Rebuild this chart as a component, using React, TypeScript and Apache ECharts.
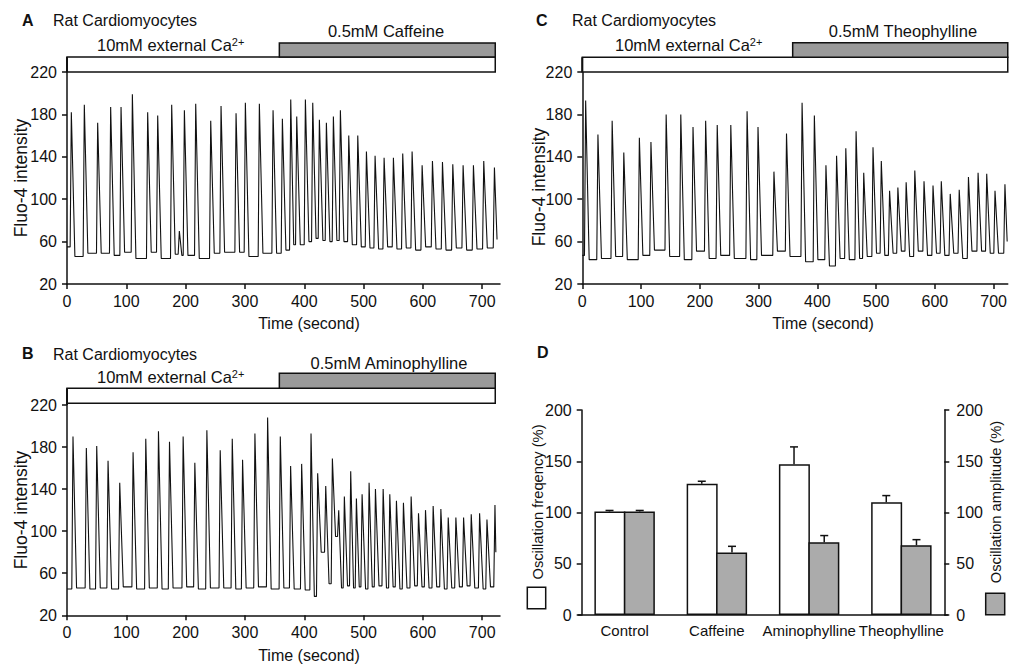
import React, { useEffect, useRef } from "react";
import * as echarts from "echarts";

// ---------- data ----------
const timeTicks = [0, 100, 200, 300, 400, 500, 600, 700];
const fluoTicks = [20, 60, 100, 140, 180, 220];
const pctTicks = [0, 50, 100, 150, 200];

// Panel A (caffeine): spike peak times (s), peak values, trough after each spike
const aTimes = [7.3, 29.2, 51.7, 73.6, 91.1, 110.2, 136.0, 152.9, 176.5, 189.4, 197.9, 217.0, 242.3, 259.7, 285.0, 300.7, 324.3, 347.4, 363.1, 377.2, 387.3, 401.9, 414.3, 425.5, 437.3, 449.1, 460.9, 475.0, 490.2, 504.8, 519.4, 534.6, 550.3, 566.0, 581.8, 598.7, 616.1, 633.0, 650.4, 667.8, 685.2, 702.6, 720.6];
const aPeaks = [182, 189, 172, 187, 187, 199, 182, 179, 189, 70, 184, 190, 174, 188, 181, 191, 190, 184, 176, 194, 178, 194, 191, 175, 172, 178, 184, 160, 160, 145, 141, 139, 139, 143, 145, 132, 136, 135, 133, 132, 132, 136, 130];
const aFloors = [46, 49, 49, 47, 50, 44, 50, 44, 48, 47, 47, 44, 49, 50, 50, 46, 49, 49, 52, 57, 57, 60, 63, 61, 60, 61, 60, 57, 55, 54, 53, 55, 53, 54, 52, 55, 53, 52, 54, 52, 53, 54, 62];
const aStart = 55;
const aEnd = 725;

// Panel B (aminophylline)
const bTimes = [10.1, 32.6, 50.1, 69.2, 88.9, 111.4, 132.8, 154.2, 172.8, 195.8, 215.5, 235.8, 258.3, 278.6, 296.0, 316.8, 338.2, 359.6, 377.0, 395.6, 411.4, 422.6, 436.2, 447.4, 458.1, 467.6, 478.3, 487.9, 497.5, 509.3, 520.0, 533.0, 544.2, 555.4, 567.2, 580.2, 592.6, 604.4, 617.3, 630.3, 642.7, 655.6, 668.6, 681.5, 695.6, 708.0, 721.5];
const bPeaks = [190, 179, 181, 167, 146, 175, 188, 195, 185, 190, 165, 196, 177, 188, 168, 193, 208, 190, 162, 164, 193, 155, 143, 169, 120, 133, 157, 131, 135, 146, 140, 140, 135, 129, 127, 133, 117, 120, 124, 121, 113, 113, 113, 116, 117, 111, 125];
const bFloors = [46, 45, 46, 45, 47, 45, 46, 45, 46, 47, 45, 46, 46, 45, 46, 47, 45, 46, 45, 44, 38, 80, 50, 95, 46, 48, 46, 47, 45, 47, 48, 46, 47, 45, 46, 48, 47, 46, 47, 45, 46, 47, 48, 46, 45, 47, 80];
const bStart = 45;
const bEnd = 723;

// Panel C (theophylline)
const cTimes = [5.7, 26.6, 50.8, 70.6, 97.1, 116.8, 142.7, 167.6, 188.4, 209.9, 229.6, 252.7, 280.4, 299.0, 326.1, 347.5, 374.0, 394.9, 414.6, 432.7, 448.4, 465.9, 478.9, 494.7, 508.8, 522.9, 537.0, 551.1, 565.8, 581.5, 596.8, 610.9, 626.1, 641.4, 657.1, 673.5, 688.2, 702.3, 719.2];
const cPeaks = [193, 161, 174, 144, 158, 154, 180, 180, 168, 174, 170, 170, 183, 168, 126, 162, 191, 179, 132, 141, 148, 164, 125, 149, 136, 108, 111, 116, 127, 117, 113, 117, 105, 109, 121, 125, 124, 108, 114];
const cFloors = [43, 44, 46, 43, 47, 52, 46, 43, 51, 44, 47, 44, 43, 47, 51, 46, 41, 43, 37, 44, 43, 44, 46, 49, 47, 49, 51, 46, 51, 47, 49, 47, 49, 44, 51, 51, 49, 49, 60];
const cStart = 47;
const cEnd = 723;

// treatment periods (s)
const drugStart = 358;
const drugEndAB = 722;
const drugEndC = 724;

// Panel D
const categories = ["Control", "Caffeine", "Aminophylline", "Theophylline"];
const freqMean = [101, 128, 147, 110];
const freqErr = [1, 2.5, 17, 6.5];
const ampMean = [101, 61, 71, 68];
const ampErr = [1, 6, 6.5, 5.5];

// ---------- drawing ----------
const FONT = "'Liberation Sans', Arial, Helvetica, sans-serif";
const INK = "#111";
const RISE = 2;
const DECAY = 6;

function buildTrace(start: number, times: number[], peaks: number[], floors: number[], end: number) {
  const pts: number[][] = [[0, start]];
  let prev = start;
  for (let i = 0; i < times.length; i++) {
    const t = times[i];
    const last = i === times.length - 1;
    const next = last ? end : times[i + 1];
    pts.push([t - RISE, prev]);
    pts.push([t, peaks[i]]);
    const dEnd = last ? end : t + Math.min(DECAY, (next - t) * 0.5);
    pts.push([dEnd, floors[i]]);
    prev = floors[i];
  }
  return pts;
}

const axisLineStyle = { color: INK, width: 1.5 };

function timeAxis(gridIndex: number, max: number) {
  return {
    type: "value",
    gridIndex,
    min: 0,
    max,
    axisLine: { show: true, onZero: false, lineStyle: axisLineStyle },
    axisTick: { show: true, length: 5, customValues: timeTicks, lineStyle: axisLineStyle },
    axisLabel: { customValues: timeTicks, color: INK, fontSize: 16, fontFamily: FONT, margin: 9 },
    splitLine: { show: false },
  };
}

function fluoAxis(gridIndex: number) {
  return {
    type: "value",
    gridIndex,
    min: 20,
    max: 220,
    axisLine: { show: true, onZero: false, lineStyle: axisLineStyle },
    axisTick: { show: true, length: 5, customValues: fluoTicks, lineStyle: axisLineStyle },
    axisLabel: { customValues: fluoTicks, color: INK, fontSize: 16, fontFamily: FONT, margin: 10 },
    splitLine: { show: false },
  };
}

function pctAxis(position: string, margin: number) {
  return {
    type: "value",
    gridIndex: 3,
    position,
    offset: -3.2,
    min: 0,
    max: 200,
    axisLine: { show: true, onZero: false, lineStyle: axisLineStyle },
    axisTick: { show: true, length: 5, customValues: pctTicks, lineStyle: axisLineStyle },
    axisLabel: { customValues: pctTicks, color: INK, fontSize: 16, fontFamily: FONT, margin },
    splitLine: { show: false },
  };
}

function traceSeries(idx: number, data: number[][]) {
  return {
    type: "line",
    xAxisIndex: idx,
    yAxisIndex: idx,
    data,
    symbol: "none",
    showSymbol: false,
    silent: true,
    clip: true,
    lineStyle: { color: INK, width: 1.1 },
  };
}

function errRender(offset: number) {
  return (params: any, api: any) => {
    const i = api.value(0);
    const m = api.value(1);
    const e = api.value(2);
    const p0 = api.coord([i, m]);
    const p1 = api.coord([i, m + e]);
    const x = p0[0] + offset;
    const st = { stroke: INK, lineWidth: 1.5 };
    return {
      type: "group",
      children: [
        { type: "line", shape: { x1: x, y1: p0[1], x2: x, y2: p1[1] }, style: st },
        { type: "line", shape: { x1: x - 4, y1: p1[1], x2: x + 4, y2: p1[1] }, style: st },
      ],
    };
  };
}

function txt(x: number, y: number, text: string, size: number, extra: any = {}, rotation = 0) {
  const align = extra.align || "left";
  return {
    type: "text",
    x,
    y,
    rotation,
    z: 10,
    style: {
      text,
      fontSize: size,
      fontFamily: FONT,
      fontWeight: extra.bold ? "bold" : "normal",
      fill: INK,
      align,
      textAlign: align,
      verticalAlign: "middle",
      textVerticalAlign: "middle",
      ...(extra.rich ? { rich: extra.rich } : {}),
    },
  };
}

const supRich = {
  s: { fontSize: 11, fontFamily: FONT, fill: INK, verticalAlign: "top", lineHeight: 11 },
};

export default function App() {
  const ref = useRef<HTMLDivElement>(null);

  useEffect(() => {
    if (!ref.current) return;
    const chart = echarts.init(ref.current, null, { renderer: "svg" });

    const option: any = {
      animation: false,
      backgroundColor: "#fff",
      grid: [
        { left: 67, top: 72, width: 433, height: 212 },
        { left: 67, top: 405, width: 433, height: 210.3 },
        { left: 582.3, top: 72, width: 427.7, height: 212 },
        { left: 578.5, top: 410, width: 369, height: 205 },
      ],
      xAxis: [
        timeAxis(0, 730),
        timeAxis(1, 730),
        timeAxis(2, 724),
        {
          type: "category",
          gridIndex: 3,
          data: categories,
          axisLine: { show: true, onZero: false, lineStyle: axisLineStyle },
          axisTick: { show: false },
          axisLabel: { interval: 0, color: INK, fontSize: 15, fontFamily: FONT, margin: 8 },
          splitLine: { show: false },
        },
      ],
      yAxis: [fluoAxis(0), fluoAxis(1), fluoAxis(2), pctAxis("left", 10), pctAxis("right", 12)],
      series: [
        traceSeries(0, buildTrace(aStart, aTimes, aPeaks, aFloors, aEnd)),
        traceSeries(1, buildTrace(bStart, bTimes, bPeaks, bFloors, bEnd)),
        traceSeries(2, buildTrace(cStart, cTimes, cPeaks, cFloors, cEnd)),
        {
          type: "bar",
          xAxisIndex: 3,
          yAxisIndex: 3,
          data: freqMean,
          barWidth: 31,
          barGap: "-5%",
          silent: true,
          itemStyle: { color: "#fff", borderColor: INK, borderWidth: 1.5 },
        },
        {
          type: "bar",
          xAxisIndex: 3,
          yAxisIndex: 4,
          data: ampMean,
          barWidth: 31,
          barGap: "-5%",
          silent: true,
          itemStyle: { color: "#ababab", borderColor: INK, borderWidth: 1.5 },
        },
        {
          type: "custom",
          xAxisIndex: 3,
          yAxisIndex: 3,
          silent: true,
          z: 5,
          data: categories.map((_, i) => [i, freqMean[i], freqErr[i]]),
          encode: { x: 0, y: 1 },
          renderItem: errRender(-15.1),
        },
        {
          type: "custom",
          xAxisIndex: 3,
          yAxisIndex: 4,
          silent: true,
          z: 5,
          data: categories.map((_, i) => [i, ampMean[i], ampErr[i]]),
          encode: { x: 0, y: 1 },
          renderItem: errRender(15.1),
        },
      ],
    };
    chart.setOption(option);

    const px = (axis: number, v: number) => chart.convertToPixel({ xAxisIndex: axis }, v) as number;
    const xA0 = px(0, 0), xAs = px(0, drugStart), xAe = px(0, drugEndAB);
    const xB0 = px(1, 0), xBs = px(1, drugStart), xBe = px(1, drugEndAB);
    const xC0 = px(2, 0), xCs = px(2, drugStart), xCe = px(2, drugEndC);

    const barStroke = { stroke: INK, lineWidth: 1.5 };
    const rect = (x: number, y: number, w: number, h: number, fill: string) => ({
      type: "rect",
      z: 5,
      shape: { x, y, width: w, height: h },
      style: { fill, ...barStroke },
    });
    const vline = (x: number, y1: number, y2: number) => ({
      type: "line",
      z: 6,
      shape: { x1: x, y1, x2: x, y2 },
      style: { stroke: INK, lineWidth: 2 },
    });

    const elements: any[] = [
      // Panel A
      txt(22, 20, "A", 16, { bold: true }),
      txt(53, 20, "Rat Cardiomyocytes", 16),
      txt(97, 45, "10mM external Ca{s|2+}", 16.5, { rich: supRich }),
      txt(386, 31, "0.5mM Caffeine", 16.5, { align: "center" }),
      rect(xA0, 57, xAe - xA0, 15, "#fff"),
      rect(xAs, 43, xAe - xAs, 14, "#9a9a9a"),
      vline(xA0, 57, 72),
      txt(21, 178, "Fluo-4 intensity", 17.5, { align: "center" }, Math.PI / 2),
      txt(309, 323, "Time (second)", 16, { align: "center" }),
      // Panel B
      txt(22, 353, "B", 16, { bold: true }),
      txt(53, 354, "Rat Cardiomyocytes", 16),
      txt(97, 377, "10mM external Ca{s|2+}", 16.5, { rich: supRich }),
      txt(389, 363, "0.5mM Aminophylline", 16.5, { align: "center" }),
      rect(xB0, 388.3, xBe - xB0, 15, "#fff"),
      rect(xBs, 373.3, xBe - xBs, 15, "#9a9a9a"),
      vline(xB0, 388.3, 405),
      txt(21, 510, "Fluo-4 intensity", 17.5, { align: "center" }, Math.PI / 2),
      txt(309, 655, "Time (second)", 16, { align: "center" }),
      // Panel C
      txt(536, 20, "C", 16, { bold: true }),
      txt(572, 20, "Rat Cardiomyocytes", 16),
      txt(615, 45, "10mM external Ca{s|2+}", 16.5, { rich: supRich }),
      txt(903, 31, "0.5mM Theophylline", 16.5, { align: "center" }),
      rect(xC0, 57.3, xCe - xC0, 14.7, "#fff"),
      rect(xCs, 42.7, xCe - xCs, 14.6, "#9a9a9a"),
      vline(xC0, 57.3, 72),
      txt(539, 187, "Fluo-4 intensity", 17.5, { align: "center" }, Math.PI / 2),
      txt(823, 323, "Time (second)", 16, { align: "center" }),
      // Panel D
      txt(537, 352, "D", 16, { bold: true }),
      txt(537.5, 502, "Oscillation freqency (%)", 14.7, { align: "center" }, Math.PI / 2),
      txt(996, 502, "Oscillation amplitude (%)", 14.7, { align: "center" }, Math.PI / 2),
      {
        type: "rect",
        z: 5,
        shape: { x: 527.3, y: 587.3, width: 18.4, height: 21.4 },
        style: { fill: "#fff", stroke: INK, lineWidth: 1.5 },
      },
      {
        type: "rect",
        z: 5,
        shape: { x: 985.7, y: 593.3, width: 19, height: 21.5 },
        style: { fill: "#ababab", stroke: INK, lineWidth: 1.5 },
      },
    ];
    chart.setOption({ graphic: elements });

    return () => chart.dispose();
  }, []);

  return (
    <div
      ref={ref}
      style={{ position: "absolute", left: 0, top: 0, width: 1010, height: 668, background: "#fff" }}
    />
  );
}
